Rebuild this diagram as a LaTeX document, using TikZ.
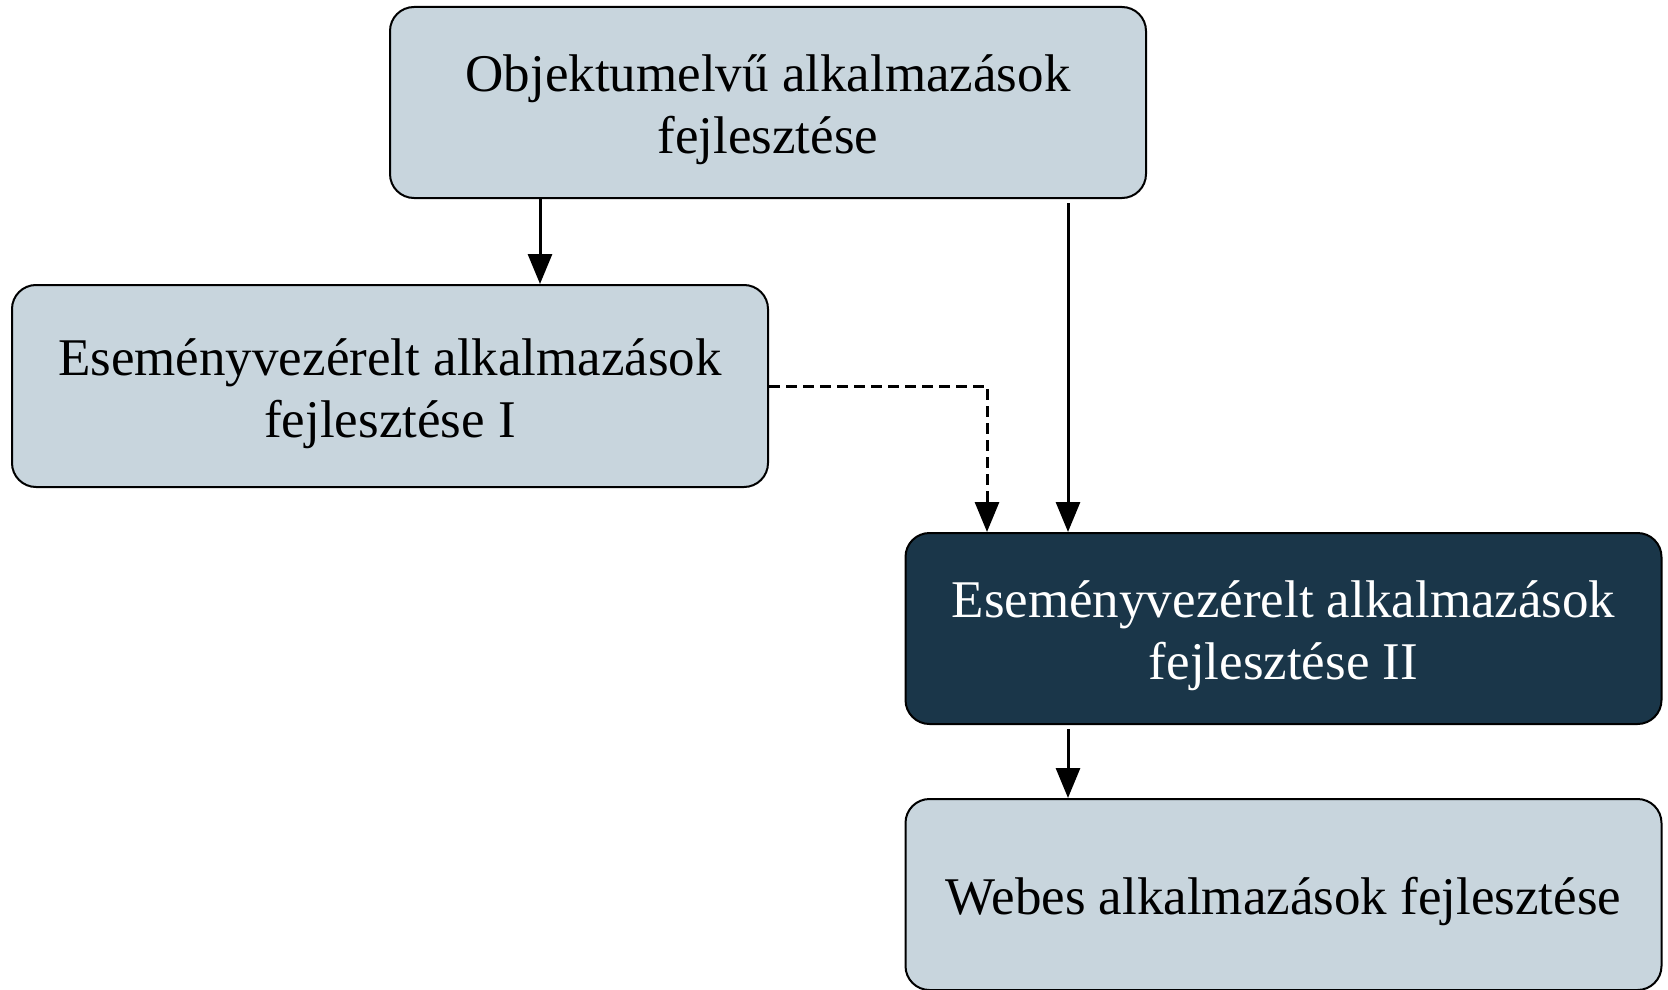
\documentclass[tikz,border=0pt]{standalone}
\usepackage{fontspec}
\setmainfont{Liberation Serif}
\usetikzlibrary{arrows.meta}
\definecolor{lightbox}{RGB}{200,213,221}
\definecolor{darkbox}{RGB}{26,54,73}
\newcommand\boxtext[1]{\raisebox{-8pt}[\height][\depth]{\begin{tabular}{@{}c@{}}#1\end{tabular}}}
\begin{document}
\begin{tikzpicture}[x=1pt,y=1pt,
  box/.style={draw=black, line width=2pt, rounded corners=24pt, fill=lightbox,
    minimum width=756pt, align=center, font=\fontsize{53}{62}\selectfont, inner sep=0pt},
  darkstyle/.style={box, fill=darkbox, text=white},
  arr/.style={line width=3pt, -{Triangle[length=30pt,width=24pt]}},
  darr/.style={arr, dash pattern=on 11pt off 6pt}]
\useasboundingbox (0,0) rectangle (1668,-990);
\node[box, minimum height=191pt] (b1) at (768,-102.5) {\boxtext{Objektumelvű alkalmazások\\fejlesztése}};
\node[box, minimum height=202pt] (b2) at (390,-386) {\boxtext{Eseményvezérelt alkalmazások\\fejlesztése I}};
\node[darkstyle, minimum height=191pt] (b3) at (1283.5,-628.5) {\boxtext{Eseményvezérelt alkalmazások\\fejlesztése II}};
\node[box, minimum height=191pt] (b4) at (1283.5,-894.5) {\boxtext{Webes alkalmazások fejlesztése}};
\coordinate (xa) at (540,0);
\coordinate (xb) at (1068,0);
\coordinate (xd) at (987,0);
\coordinate (bend) at (987,-386);
\draw[arr] (b1.south -| xa) -- (b2.north -| xa);
\draw[arr, shorten <=4pt] (b1.south -| xb) -- (b3.north -| xb);
\draw[darr] (b2.east) -- (bend) -- (b3.north -| xd);
\draw[arr, shorten <=4pt] (b3.south -| xb) -- (b4.north -| xb);
\end{tikzpicture}
\end{document}
